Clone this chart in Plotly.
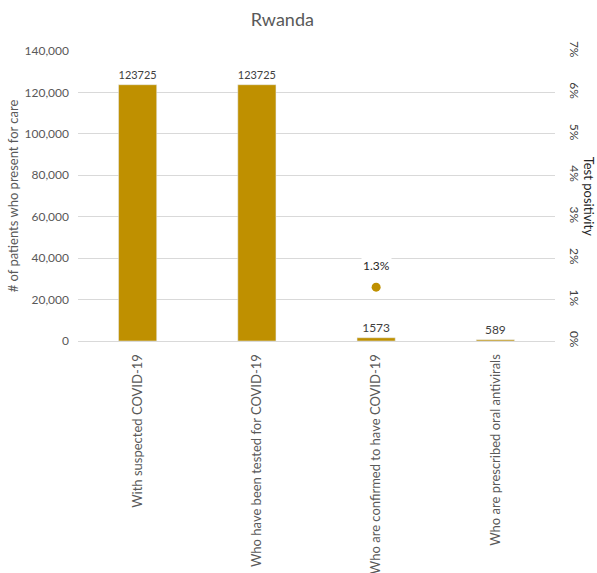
import plotly.graph_objects as go

# Patient cascade for Rwanda
categories = [
    "With suspected COVID-19",
    "Who have been tested for COVID-19",
    "Who are confirmed to have COVID-19",
    "Who are prescribed oral antivirals",
]
patients = [123725, 123725, 1573, 589]

# Test positivity shown against the confirmed-case stage
positivity_categories = ["Who are confirmed to have COVID-19"]
positivity = [0.013]

left_ticks = [0, 20000, 40000, 60000, 80000, 100000, 120000, 140000]
right_ticks = [0, 0.01, 0.02, 0.03, 0.04, 0.05, 0.06, 0.07]

GOLD = "#BF9000"
GREY = "#595959"
FONT = "Lato, Open Sans, sans-serif"

fig = go.Figure()

fig.add_trace(go.Bar(
    x=categories,
    y=patients,
    marker_color=GOLD,
    width=0.32,
    text=[str(v) for v in patients],
    textposition="outside",
    textfont=dict(size=12, color="#404040", family=FONT),
    cliponaxis=False,
    showlegend=False,
))

fig.add_trace(go.Scatter(
    x=positivity_categories,
    y=positivity,
    yaxis="y2",
    mode="markers",
    marker=dict(size=9, color=GOLD),
    showlegend=False,
))

# Positivity label with a white backing box
for c, p in zip(positivity_categories, positivity):
    fig.add_annotation(
        x=c, y=p, xref="x", yref="y2",
        text=f"{p * 100:.1f}%",
        showarrow=False,
        yshift=22,
        bgcolor="white",
        font=dict(size=12, color="#262626", family=FONT),
    )

fig.update_layout(
    width=597,
    height=573,
    margin=dict(l=78, r=42, t=51, b=232),
    paper_bgcolor="white",
    plot_bgcolor="white",
    font=dict(family=FONT, color=GREY),
    bargap=0.68,
    title=dict(
        text="Rwanda",
        x=0.473, xanchor="center",
        y=0.965, yanchor="middle",
        font=dict(size=18, color=GREY, family=FONT),
    ),
    xaxis=dict(
        tickangle=-90,
        tickfont=dict(size=13, color=GREY, family=FONT),
        showline=True,
        linecolor="#D9D9D9",
        ticks="",
        ticklabelstandoff=7,
        automargin=False,
    ),
    yaxis=dict(
        range=[0, 140000],
        tickvals=left_ticks,
        tickformat=",",
        tickfont=dict(size=12, color=GREY, family=FONT),
        gridcolor="#D9D9D9",
        zeroline=False,
        automargin=False,
        ticklabelstandoff=8,
        title=dict(text="# of patients who present for care",
                   font=dict(size=13, color=GREY, family=FONT), standoff=2),
    ),
    yaxis2=dict(
        overlaying="y",
        side="right",
        range=[0, 0.07],
        tickvals=right_ticks,
        tickformat=".0%",
        tickangle=90,
        tickfont=dict(size=12, color="#404040", family=FONT),
        showgrid=False,
        zeroline=False,
        automargin=False,
        ticklabelstandoff=12,
    ),
)

fig.add_annotation(
    text="Test positivity",
    xref="paper", yref="paper",
    x=1.072, y=0.5,
    xanchor="center", yanchor="middle",
    textangle=90,
    showarrow=False,
    font=dict(size=13, color="#262626", family=FONT),
)

fig.write_html("out.html")
